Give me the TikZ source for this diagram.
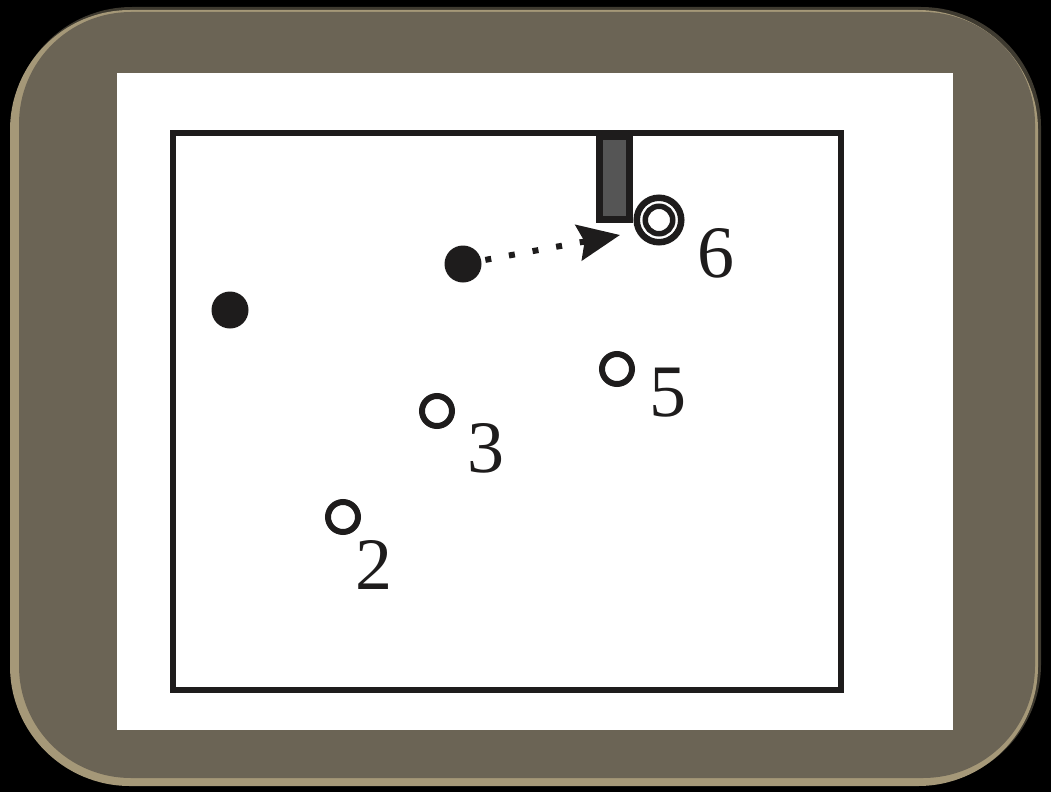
\documentclass[tikz,border=0pt]{standalone}
\usepackage{fontspec}
\setmainfont{Liberation Serif}
\usetikzlibrary{arrows.meta}
\definecolor{framebase}{RGB}{107,100,85}
\definecolor{framelight}{RGB}{165,152,120}
\definecolor{framedark}{RGB}{62,58,48}
\definecolor{barfill}{RGB}{85,85,85}
\definecolor{ink}{RGB}{30,28,28}
\tikzset{
  fulldot/.style={circle,fill=ink,minimum size=37pt,inner sep=0pt},
  opendot/.style={circle,draw=ink,line width=6pt,minimum size=30pt,inner sep=0pt,fill=white},
  numlabel/.style={font=\fontsize{74}{74}\selectfont,text=ink,inner sep=0pt},
}
\begin{document}
\begin{tikzpicture}[x=1pt,y=-1pt]
\useasboundingbox (0,0) rectangle (1051,792);
\fill[black] (0,0) rectangle (1051,792);
% frame with bevel: dark top/right, light left/bottom
\fill[framedark,rounded corners=120pt] (12,7) rectangle (1041,784);
\fill[framelight,rounded corners=120pt] (10,10) rectangle (1038,786);
\fill[framebase,rounded corners=112pt] (19,12) rectangle (1035,778);
% white panel
\fill[white] (117,73) rectangle (953,730);
% inner box
\node[draw=ink,line width=6pt,minimum width=668pt,minimum height=557pt,inner sep=0pt] (box) at (507,411.5) {};
% bar
\node[draw=ink,fill=barfill,line width=7pt,minimum width=30pt,minimum height=83pt,inner sep=0pt,anchor=north] (bar) at (614.5,133) {};
% target 6
\node[circle,draw=ink,line width=6.5pt,minimum size=44.5pt,inner sep=0pt] (t6) at (659,220) {};
\node[circle,draw=ink,line width=5.5pt,minimum size=27.5pt,inner sep=0pt] (t6in) at (659,220) {};
\node[numlabel] (l6) at (716,253) {6};
% filled dots
\node[fulldot] (d1) at (463,264) {};
\node[fulldot] (d0) at (230,310) {};
\coordinate (tip) at (620,235);
\draw[ink,line width=6pt,dash pattern=on 6pt off 18pt,shorten <=4pt,-{Stealth[length=42pt,width=36pt,inset=6pt]}] (d1) -- (tip);
% open dots
\node[opendot] (c2) at (343,517) {};
\node[opendot] (c3) at (437,411) {};
\node[opendot] (c5) at (617,369) {};
\node[numlabel] (l2) at (374,565) {2};
\node[numlabel] (l3) at (486,448) {3};
\node[numlabel] (l5) at (668,393) {5};
\end{tikzpicture}
\end{document}
